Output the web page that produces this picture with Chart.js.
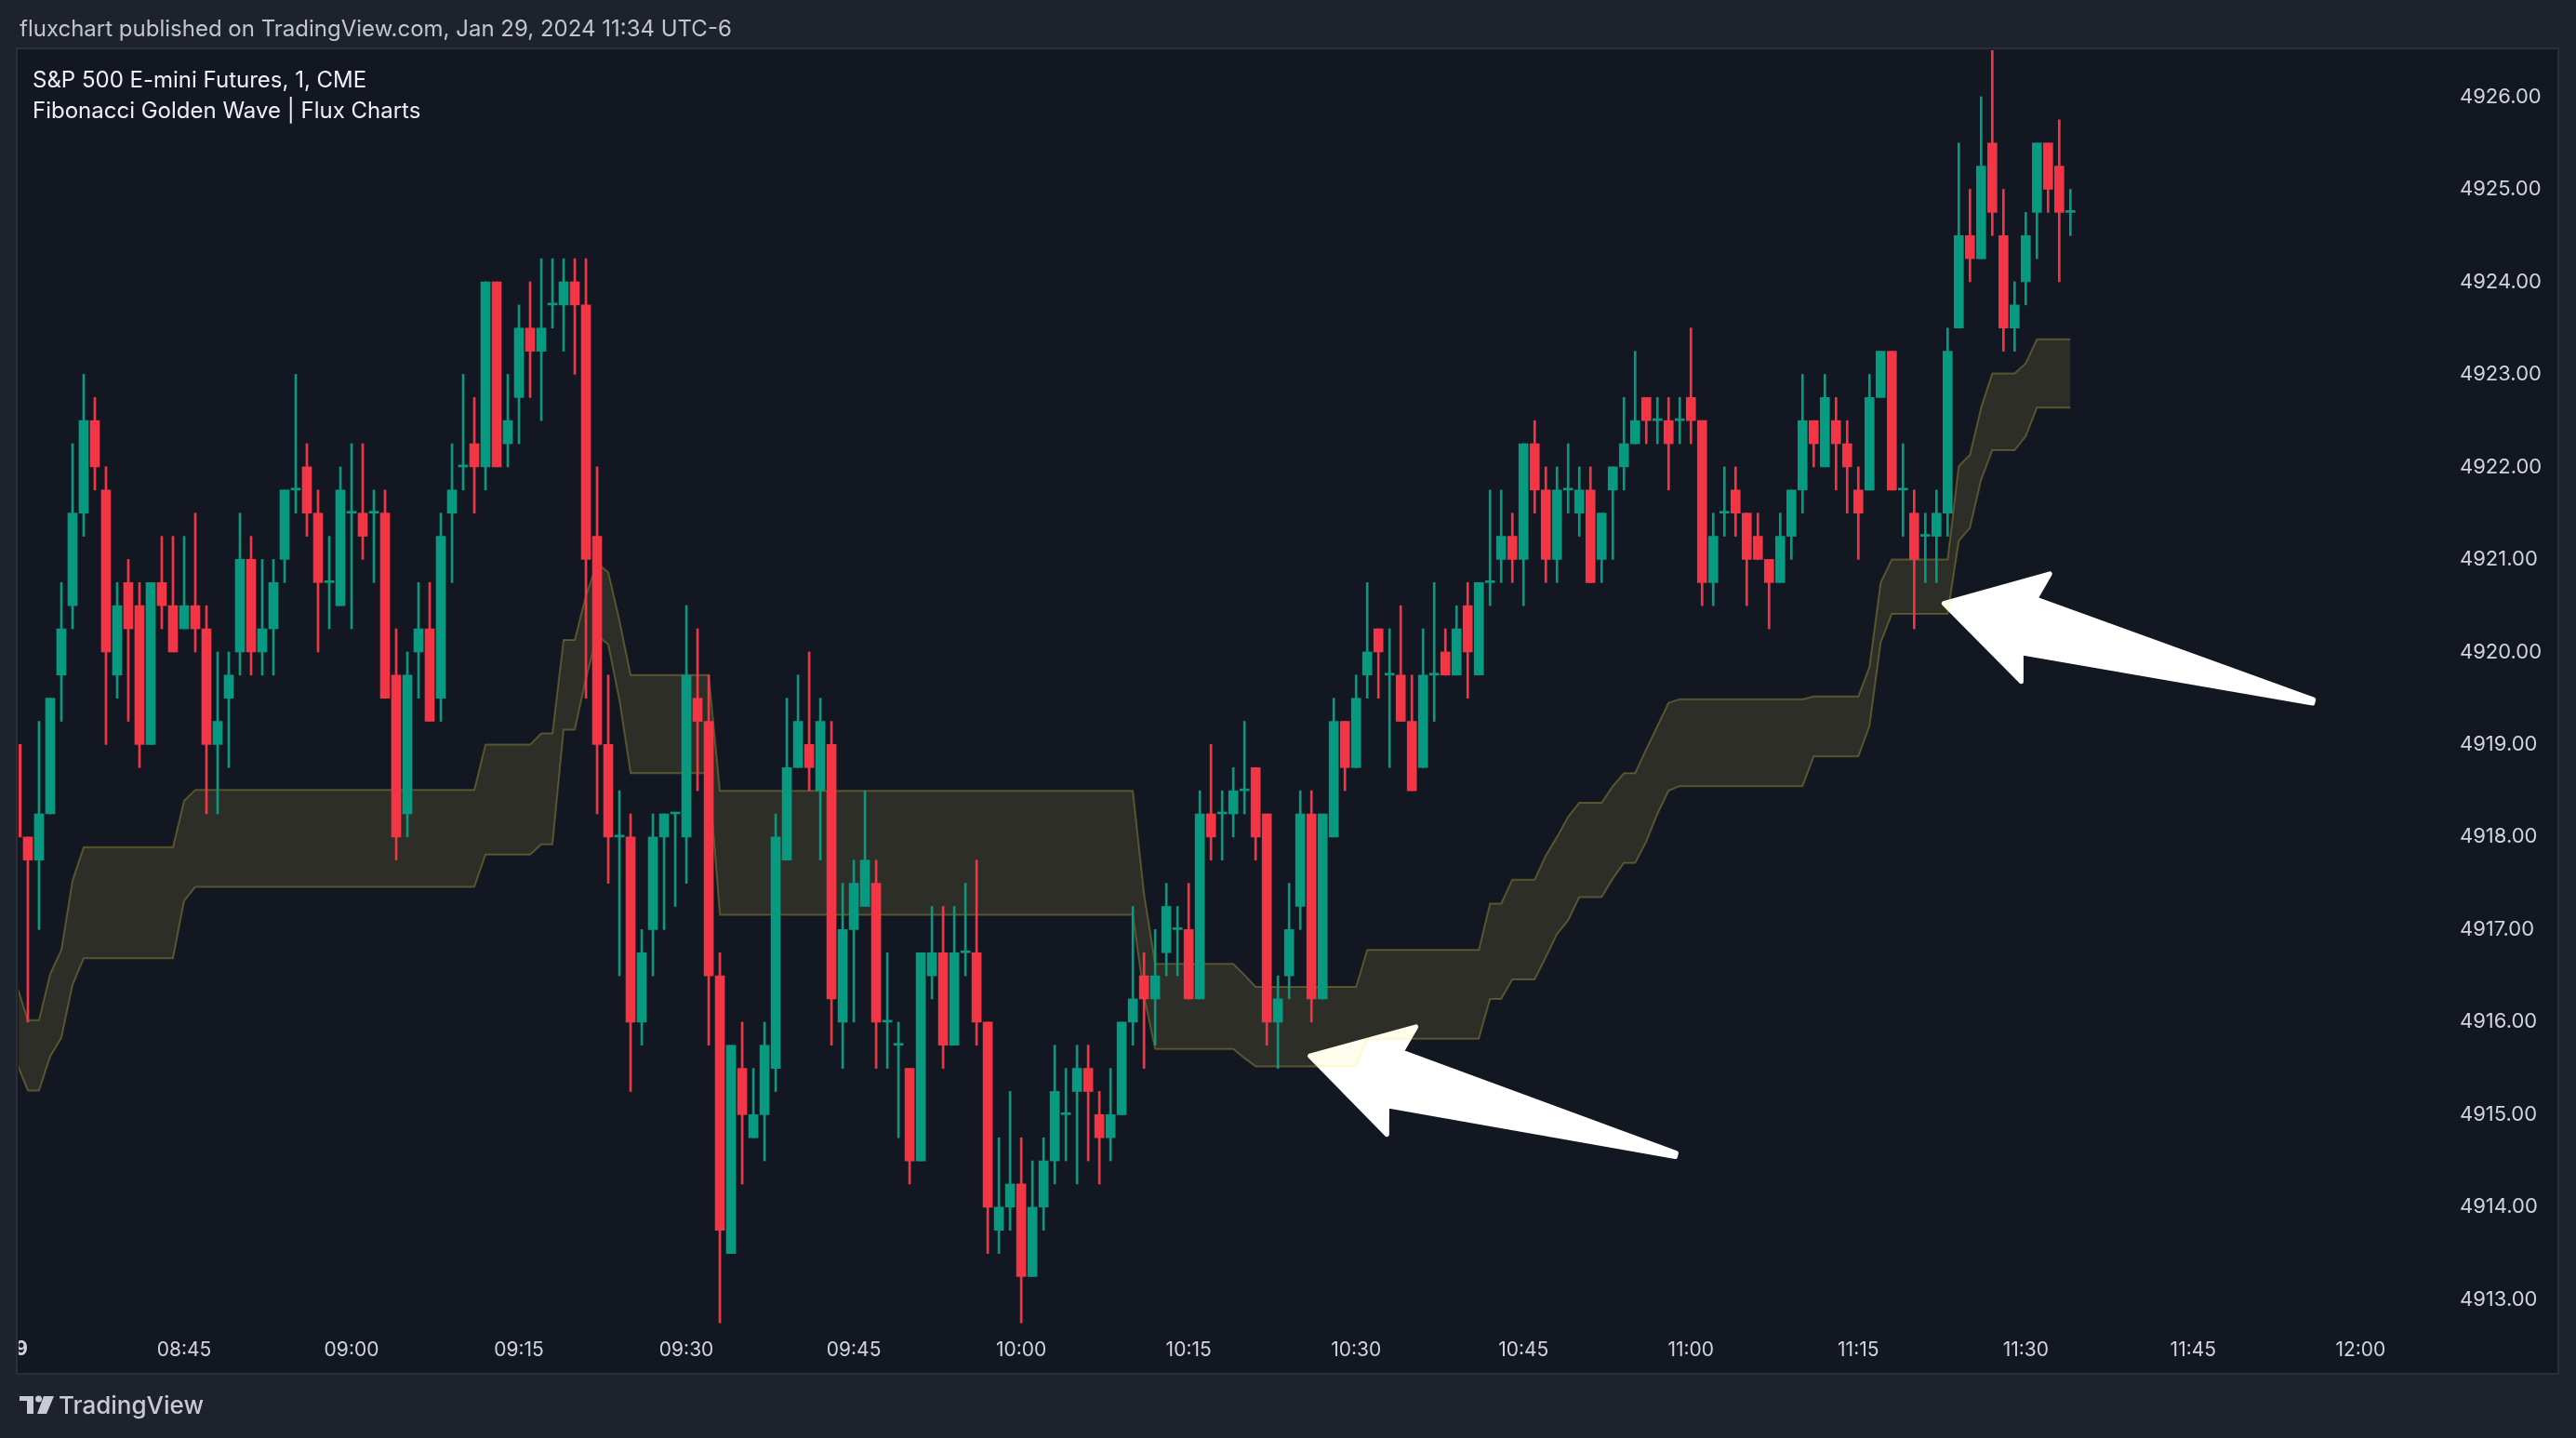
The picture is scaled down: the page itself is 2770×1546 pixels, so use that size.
<!DOCTYPE html>
<html><head><meta charset="utf-8">
<style>
html,body{margin:0;padding:0;background:#1e222d;overflow:hidden;}
canvas{display:block;}
</style>
<script src="https://cdn.jsdelivr.net/npm/chart.js@4.4.1/dist/chart.umd.min.js"></script>
</head><body>
<canvas id="c" width="2770" height="1546"></canvas>
<script>
// ---------- DATA (S&P 500 E-mini Futures, 1 min, CME) ----------
const firstBar = '08:30';
const open = [
4919.00,4918.00,4917.75,4918.25,4919.75,4920.50,4921.50,4922.50,4921.75,4919.75,
4920.75,4920.50,4919.00,4920.75,4920.50,4920.25,4920.50,4920.25,4919.00,4919.50,
4920.00,4921.00,4920.00,4920.25,4921.00,4921.75,4922.00,4921.50,4920.75,4920.50,
4921.50,4921.50,4921.50,4921.50,4919.75,4918.25,4920.00,4920.25,4919.50,4921.50,
4922.00,4922.25,4922.00,4924.00,4922.25,4922.75,4923.50,4923.25,4923.75,4923.75,
4924.00,4923.75,4921.25,4919.00,4918.00,4918.00,4916.00,4917.00,4918.00,4918.25,
4918.00,4919.50,4919.25,4916.50,4913.50,4915.50,4914.75,4915.00,4915.50,4917.75,
4918.75,4919.00,4918.50,4919.00,4916.00,4917.00,4917.25,4917.50,4916.00,4915.75,
4915.50,4914.50,4916.50,4916.75,4915.75,4916.75,4916.75,4916.00,4913.75,4914.00,
4914.25,4913.25,4914.00,4914.50,4915.00,4915.25,4915.50,4915.00,4914.75,4915.00,
4916.00,4916.50,4916.25,4916.75,4917.00,4917.00,4916.25,4918.25,4918.25,4918.25,
4918.50,4918.75,4918.25,4916.00,4916.50,4917.25,4918.25,4916.25,4918.00,4919.25,
4918.75,4919.75,4920.25,4919.75,4919.75,4919.25,4918.75,4919.75,4920.00,4919.75,
4920.50,4919.75,4920.75,4921.00,4921.25,4921.00,4922.25,4921.75,4921.00,4921.75,
4921.50,4921.75,4921.00,4921.75,4922.00,4922.25,4922.75,4922.50,4922.50,4922.50,
4922.75,4922.50,4920.75,4921.50,4921.75,4921.50,4921.25,4921.00,4920.75,4921.25,
4921.75,4922.50,4922.00,4922.50,4922.25,4921.75,4921.75,4922.75,4923.25,4921.75,
4921.50,4921.25,4921.25,4921.50,4923.50,4924.50,4924.25,4925.50,4924.50,4923.50,
4924.00,4924.75,4925.50,4925.25,4924.75];
const high = [
4919.25,4918.00,4919.25,4919.50,4920.75,4922.25,4923.00,4922.75,4922.00,4920.75,
4921.00,4920.75,4920.75,4921.25,4921.25,4921.25,4921.50,4920.50,4920.00,4920.00,
4921.50,4921.25,4921.00,4921.00,4921.75,4923.00,4922.25,4921.75,4921.25,4922.00,
4922.25,4922.25,4921.75,4921.75,4920.25,4920.00,4920.75,4920.75,4921.50,4922.25,
4923.00,4922.75,4924.00,4924.00,4923.00,4923.75,4924.00,4924.25,4924.25,4924.25,
4924.25,4924.25,4922.00,4919.75,4918.50,4918.25,4917.00,4918.25,4918.25,4918.25,
4920.50,4920.25,4919.75,4916.75,4915.75,4916.00,4915.50,4916.00,4918.25,4919.50,
4919.75,4920.00,4919.50,4919.25,4917.50,4917.75,4918.50,4917.75,4916.75,4916.00,
4915.50,4916.75,4917.25,4917.25,4917.25,4917.50,4917.75,4916.00,4914.75,4915.25,
4914.75,4914.50,4914.75,4915.75,4915.50,4915.75,4915.75,4915.25,4915.50,4916.00,
4917.25,4916.75,4917.00,4917.50,4917.25,4917.50,4918.50,4919.00,4918.50,4918.75,
4919.25,4918.75,4918.25,4916.50,4917.50,4918.50,4918.50,4918.25,4919.50,4919.25,
4919.75,4920.75,4920.25,4920.25,4920.50,4919.75,4920.25,4920.75,4920.25,4920.50,
4920.75,4920.75,4921.75,4921.75,4921.50,4922.25,4922.50,4922.00,4922.00,4922.25,
4922.00,4922.00,4921.50,4922.00,4922.75,4923.25,4922.75,4922.75,4922.75,4922.75,
4923.50,4922.50,4921.50,4922.00,4922.00,4921.50,4921.50,4921.00,4921.50,4921.75,
4923.00,4922.50,4923.00,4922.75,4922.50,4922.00,4923.00,4923.25,4923.25,4922.25,
4921.75,4921.50,4921.75,4923.50,4925.50,4925.00,4926.00,4926.75,4925.00,4924.00,
4924.75,4925.50,4925.50,4925.75,4925.00];
const low = [
4917.75,4916.00,4917.00,4918.25,4919.25,4920.25,4921.25,4921.75,4919.00,4919.50,
4919.25,4918.75,4919.00,4920.25,4920.00,4920.25,4920.00,4918.25,4918.25,4918.75,
4919.75,4919.75,4919.75,4919.75,4920.75,4921.50,4921.25,4920.00,4920.25,4920.50,
4920.25,4921.00,4920.75,4919.50,4917.75,4918.00,4919.50,4919.25,4919.25,4920.75,
4921.75,4921.50,4921.75,4922.00,4922.00,4922.25,4922.75,4922.50,4923.50,4923.25,
4923.00,4919.50,4918.25,4917.50,4916.50,4915.25,4915.75,4916.50,4917.00,4917.25,
4917.50,4918.50,4915.75,4912.75,4913.50,4914.25,4914.75,4914.50,4915.25,4917.75,
4918.75,4918.50,4917.75,4915.75,4915.50,4916.00,4917.25,4915.50,4915.50,4914.75,
4914.25,4914.50,4916.25,4915.50,4915.75,4916.50,4915.75,4913.50,4913.50,4913.75,
4912.75,4913.25,4913.75,4914.25,4914.50,4914.25,4914.50,4914.25,4914.50,4915.00,
4915.75,4915.50,4915.75,4916.50,4916.50,4916.25,4916.25,4917.75,4917.75,4918.00,
4918.25,4917.75,4915.75,4915.50,4916.25,4917.00,4916.00,4916.25,4918.00,4918.50,
4918.75,4919.50,4919.50,4918.75,4919.25,4918.50,4918.75,4919.25,4919.75,4919.75,
4919.50,4919.75,4920.50,4920.75,4920.75,4920.50,4921.50,4920.75,4920.75,4921.50,
4921.25,4920.75,4920.75,4921.00,4921.75,4922.25,4922.25,4922.25,4921.75,4922.25,
4922.25,4920.50,4920.50,4921.25,4921.25,4920.50,4921.00,4920.25,4920.75,4921.00,
4921.50,4922.00,4922.00,4921.75,4921.50,4921.00,4921.75,4922.75,4921.75,4921.25,
4920.25,4920.75,4920.75,4921.25,4923.50,4924.00,4924.25,4924.50,4923.25,4923.25,
4923.75,4924.25,4924.75,4924.00,4924.50];
const close = [
4918.00,4917.75,4918.25,4919.50,4920.25,4921.50,4922.50,4922.00,4920.00,4920.50,
4920.25,4919.00,4920.75,4920.50,4920.00,4920.50,4920.25,4919.00,4919.25,4919.75,
4921.00,4920.00,4920.25,4920.75,4921.75,4921.75,4921.50,4920.75,4920.75,4921.75,
4921.50,4921.25,4921.50,4919.50,4918.00,4919.75,4920.25,4919.25,4921.25,4921.75,
4922.00,4922.00,4924.00,4922.00,4922.50,4923.50,4923.25,4923.50,4923.75,4924.00,
4923.75,4921.00,4919.00,4918.00,4918.00,4916.00,4916.75,4918.00,4918.25,4918.25,
4919.75,4919.25,4916.50,4913.75,4915.75,4915.00,4915.00,4915.75,4918.00,4918.75,
4919.25,4918.75,4919.25,4916.25,4917.00,4917.50,4917.75,4916.00,4916.00,4915.75,
4914.50,4916.75,4916.75,4915.75,4916.75,4916.75,4916.00,4914.00,4914.00,4914.25,
4913.25,4914.00,4914.50,4915.25,4915.00,4915.50,4915.25,4914.75,4915.00,4916.00,
4916.25,4916.25,4916.50,4917.25,4917.00,4916.25,4918.25,4918.00,4918.25,4918.50,
4918.50,4918.00,4916.00,4916.25,4917.00,4918.25,4916.25,4918.25,4919.25,4918.75,
4919.50,4920.00,4920.00,4919.75,4919.25,4918.50,4919.75,4919.75,4919.75,4920.25,
4920.00,4920.75,4920.75,4921.25,4921.00,4922.25,4921.75,4921.00,4921.75,4921.75,
4921.75,4920.75,4921.50,4922.00,4922.25,4922.50,4922.50,4922.50,4922.25,4922.50,
4922.50,4920.75,4921.25,4921.50,4921.50,4921.00,4921.00,4920.75,4921.25,4921.75,
4922.50,4922.25,4922.75,4922.25,4922.00,4921.50,4922.75,4923.25,4921.75,4921.75,
4921.00,4921.25,4921.50,4923.25,4924.50,4924.25,4925.25,4924.75,4923.50,4923.75,
4924.50,4925.50,4925.00,4924.75,4924.75];
// Fibonacci Golden Wave band (upper / lower edge, one value per bar)
const bandUpper = [
4916.40,4916.02,4916.02,4916.52,4916.78,4917.53,4917.89,4917.89,4917.89,4917.89,
4917.89,4917.89,4917.89,4917.89,4917.89,4918.39,4918.51,4918.51,4918.51,4918.51,
4918.51,4918.51,4918.51,4918.51,4918.51,4918.51,4918.51,4918.51,4918.51,4918.51,
4918.51,4918.51,4918.51,4918.51,4918.51,4918.51,4918.51,4918.51,4918.51,4918.51,
4918.51,4918.51,4919.00,4919.00,4919.00,4919.00,4919.00,4919.12,4919.12,4920.13,
4920.13,4920.61,4920.96,4920.86,4920.34,4919.75,4919.75,4919.75,4919.75,4919.75,
4919.75,4919.75,4919.75,4918.50,4918.50,4918.50,4918.50,4918.50,4918.50,4918.50,
4918.50,4918.50,4918.50,4918.50,4918.50,4918.50,4918.50,4918.50,4918.50,4918.50,
4918.50,4918.50,4918.50,4918.50,4918.50,4918.50,4918.50,4918.50,4918.50,4918.50,
4918.50,4918.50,4918.50,4918.50,4918.50,4918.50,4918.50,4918.50,4918.50,4918.50,
4918.50,4917.39,4916.63,4916.63,4916.63,4916.63,4916.63,4916.63,4916.63,4916.63,
4916.51,4916.38,4916.38,4916.38,4916.38,4916.38,4916.38,4916.38,4916.38,4916.38,
4916.38,4916.78,4916.78,4916.78,4916.78,4916.78,4916.78,4916.78,4916.78,4916.78,
4916.78,4916.78,4917.28,4917.28,4917.54,4917.54,4917.54,4917.80,4918.00,4918.22,
4918.37,4918.37,4918.37,4918.55,4918.69,4918.69,4918.95,4919.20,4919.45,4919.49,
4919.49,4919.49,4919.49,4919.49,4919.49,4919.49,4919.49,4919.49,4919.49,4919.49,
4919.49,4919.52,4919.52,4919.52,4919.52,4919.52,4919.84,4920.75,4921.00,4921.00,
4921.00,4921.00,4921.00,4921.00,4922.01,4922.13,4922.64,4923.01,4923.01,4923.01,
4923.12,4923.38,4923.38,4923.38,4923.38];
const bandLower = [
4915.56,4915.26,4915.26,4915.63,4915.83,4916.40,4916.69,4916.69,4916.69,4916.69,
4916.69,4916.69,4916.69,4916.69,4916.69,4917.31,4917.46,4917.46,4917.46,4917.46,
4917.46,4917.46,4917.46,4917.46,4917.46,4917.46,4917.46,4917.46,4917.46,4917.46,
4917.46,4917.46,4917.46,4917.46,4917.46,4917.46,4917.46,4917.46,4917.46,4917.46,
4917.46,4917.46,4917.81,4917.81,4917.81,4917.81,4917.81,4917.92,4917.92,4919.16,
4919.16,4919.71,4920.18,4920.08,4919.48,4918.69,4918.69,4918.69,4918.69,4918.69,
4918.69,4918.69,4918.69,4917.16,4917.16,4917.16,4917.16,4917.16,4917.16,4917.16,
4917.16,4917.16,4917.16,4917.16,4917.16,4917.16,4917.16,4917.16,4917.16,4917.16,
4917.16,4917.16,4917.16,4917.16,4917.16,4917.16,4917.16,4917.16,4917.16,4917.16,
4917.16,4917.16,4917.16,4917.16,4917.16,4917.16,4917.16,4917.16,4917.16,4917.16,
4917.16,4916.28,4915.71,4915.71,4915.71,4915.71,4915.71,4915.71,4915.71,4915.71,
4915.61,4915.52,4915.52,4915.52,4915.52,4915.52,4915.52,4915.52,4915.52,4915.52,
4915.52,4915.82,4915.82,4915.82,4915.82,4915.82,4915.82,4915.82,4915.82,4915.82,
4915.82,4915.82,4916.25,4916.25,4916.46,4916.46,4916.46,4916.70,4916.95,4917.10,
4917.35,4917.35,4917.35,4917.55,4917.72,4917.72,4917.95,4918.25,4918.50,4918.55,
4918.55,4918.55,4918.55,4918.55,4918.55,4918.55,4918.55,4918.55,4918.55,4918.55,
4918.55,4918.87,4918.87,4918.87,4918.87,4918.87,4919.20,4920.10,4920.41,4920.41,
4920.41,4920.41,4920.41,4920.41,4921.20,4921.34,4921.86,4922.18,4922.18,4922.18,
4922.33,4922.64,4922.64,4922.64,4922.64];
const timeTicks = ['08:45','09:00','09:15','09:30','09:45','10:00','10:15','10:30','10:45','11:00','11:15','11:30','11:45','12:00'];
const priceTicks = [4913,4914,4915,4916,4917,4918,4919,4920,4921,4922,4923,4924,4925,4926];
// user-drawn arrow markers: [minutes after first bar, price]
const arrowTips  = [[115.7, 4915.64], [172.5, 4920.53]];
const arrowTails = [[148.8, 4914.56], [205.9, 4919.46]];

const headerText = 'fluxchart published on TradingView.com, Jan 29, 2024 11:34 UTC-6';
const titleText = 'S&P 500 E-mini Futures, 1, CME';
const indicatorText = 'Fibonacci Golden Wave | Flux Charts';
const dayLabel = '29';

// ---------- helpers ----------
function toMin(t){ const [h,m]=t.split(':').map(Number); const [h0,m0]=firstBar.split(':').map(Number); return (h*60+m)-(h0*60+m0); }
const UP='#089981', DN='#f23645';
const barColors = open.map((o,i)=> close[i] >= o ? UP : DN);
const bodies = open.map((o,i)=>({x:i, y:[Math.min(o,close[i]), Math.max(o,close[i])]}));
const wicks  = open.map((o,i)=>({x:i, y:[low[i], high[i]]}));
const upperPts = bandUpper.map((v,i)=>({x:i, y:v}));
const lowerPts = bandLower.map((v,i)=>({x:i, y:v}));

const FONT = 'Inter, "Noto Sans", sans-serif';
Chart.defaults.font.family = FONT;

const PANEL = {l:19, t:53, r:2750, b:1476};

const framePlugin = {
  id:'frame',
  beforeDraw(chart){
    const ctx = chart.ctx;
    ctx.save();
    ctx.fillStyle = '#1e222d'; ctx.fillRect(0,0,chart.width,chart.height);
    ctx.fillStyle = '#131722'; ctx.fillRect(PANEL.l,PANEL.t,PANEL.r-PANEL.l,PANEL.b-PANEL.t);
    ctx.strokeStyle = '#2a2e39'; ctx.lineWidth = 2;
    ctx.strokeRect(PANEL.l-1,PANEL.t-1,PANEL.r-PANEL.l+2,PANEL.b-PANEL.t+2);
    ctx.restore();
  },
  beforeDatasetsDraw(chart){
    const ctx = chart.ctx, xs = chart.scales.x, ys = chart.scales.y;
    ctx.save();
    for (let k=0;k<arrowTips.length;k++){
      const T = {x: xs.getPixelForValue(arrowTips[k][0]), y: ys.getPixelForValue(arrowTips[k][1])};
      const E = {x: xs.getPixelForValue(arrowTails[k][0]), y: ys.getPixelForValue(arrowTails[k][1])};
      const dx=E.x-T.x, dy=E.y-T.y, len=Math.hypot(dx,dy);
      const ux=dx/len, uy=dy/len, nx=-uy, ny=ux;
      const P=(a,b)=>[T.x+ux*a+nx*b, T.y+uy*a+ny*b];
      const HL=104, HW=60, NL=96, NW=30, TW=2;
      const pts=[P(2,0),P(HL,-HW),P(NL,-NW),P(len-2,-TW),P(len-2,TW),P(NL,NW),P(HL,HW)];
      ctx.beginPath();
      pts.forEach((p,i)=> i?ctx.lineTo(p[0],p[1]):ctx.moveTo(p[0],p[1]));
      ctx.closePath();
      ctx.fillStyle='#ffffff'; ctx.strokeStyle='#ffffff'; ctx.lineWidth=5; ctx.lineJoin='round';
      ctx.fill(); ctx.stroke();
    }
    ctx.restore();
  },
  afterDraw(chart){
    const ctx = chart.ctx;
    ctx.save();
    ctx.textBaseline='middle'; ctx.textAlign='left';
    ctx.fillStyle='#c2c5cd'; ctx.font='24px '+FONT;
    ctx.fillText(headerText, 21, 32);
    ctx.fillStyle='#eef0f5'; ctx.font='24px '+FONT;
    ctx.fillText(titleText, 35, 87);
    ctx.fillText(indicatorText, 35, 120);
    // day label clipped by panel
    ctx.save();
    ctx.beginPath(); ctx.rect(PANEL.l+1, PANEL.t, PANEL.r-PANEL.l, PANEL.b-PANEL.t); ctx.clip();
    ctx.fillStyle='#d1d4dc'; ctx.font='bold 21px '+FONT; ctx.textAlign='right';
    ctx.fillText(dayLabel, 30, 1451);
    ctx.restore();
    // TradingView logo
    ctx.fillStyle='#c8cbd3';
    ctx.fillRect(21,1501,15,5);
    ctx.fillRect(29,1501,7,19);
    ctx.beginPath(); ctx.arc(41.5,1504,3.5,0,Math.PI*2); ctx.fill();
    ctx.beginPath(); ctx.moveTo(47,1501); ctx.lineTo(58,1501); ctx.lineTo(50,1520); ctx.lineTo(40,1520); ctx.closePath(); ctx.fill();
    ctx.font='500 26px '+FONT; ctx.textAlign='left';
    ctx.fillText('TradingView', 63, 1512);
    ctx.restore();
  }
};

new Chart(document.getElementById('c'), {
  type:'bar',
  data:{
    datasets:[
      {type:'line', data:upperPts, borderColor:'rgba(255,235,80,0.25)', borderWidth:2, pointRadius:0, fill:false, tension:0, order:10},
      {type:'line', data:lowerPts, borderColor:'rgba(255,235,80,0.25)', borderWidth:2, pointRadius:0, fill:'-1', backgroundColor:'rgba(255,235,80,0.11)', tension:0, order:9},
      {type:'bar', data:wicks, backgroundColor:barColors, barThickness:2, grouped:false, borderWidth:0, order:2},
      {type:'bar', data:bodies, backgroundColor:barColors, barThickness:10, grouped:false, borderWidth:0, minBarLength:2, order:1}
    ]
  },
  options:{
    responsive:false, animation:false, devicePixelRatio:1, events:[],
    layout:{padding:{left:20, top:54, right:0, bottom:0}},
    plugins:{legend:{display:false}, tooltip:{enabled:false}},
    scales:{
      x:{type:'linear', min:0.17, max:217.8, offset:false,
         grid:{display:false, drawTicks:false}, border:{display:false},
         ticks:{color:'#d1d4dc', font:{size:21}, padding:14, maxRotation:0, autoSkip:false,
                callback:(v)=>{ const t=timeTicks.find(s=>toMin(s)===v); return t||''; }},
         afterBuildTicks:(s)=>{ s.ticks = timeTicks.map(t=>({value:toMin(t)})); },
         afterFit:(s)=>{ s.height = 121; }
      },
      y:{type:'linear', position:'right', min:4912.7216, max:4926.5026,
         grid:{display:false, drawTicks:false}, border:{display:false},
         ticks:{color:'#d1d4dc', font:{size:22}, padding:13, callback:(v)=>Number(v).toFixed(2)},
         afterBuildTicks:(s)=>{ s.ticks = priceTicks.map(v=>({value:v})); },
         afterFit:(s)=>{ s.width = 138; }
      }
    }
  },
  plugins:[framePlugin]
});
</script>
</body></html>
